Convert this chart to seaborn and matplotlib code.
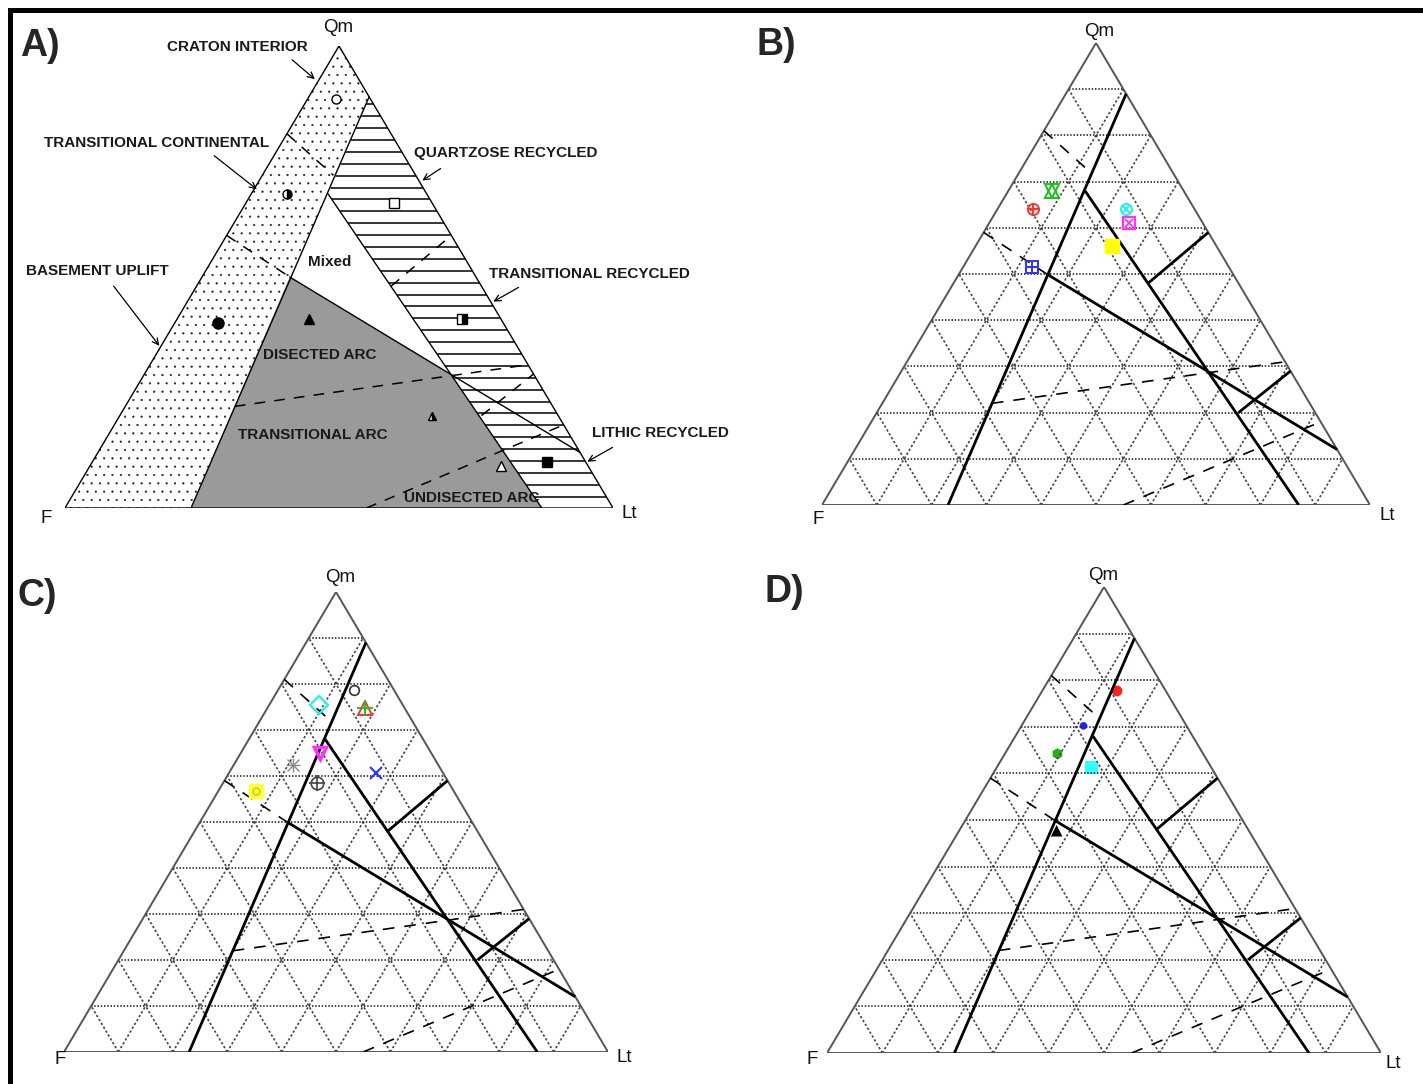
import numpy as np
import pandas as pd
import matplotlib
matplotlib.use("Agg")
import matplotlib.pyplot as plt
from matplotlib.patches import Polygon, Rectangle, FancyArrowPatch
import seaborn as sns

# Style
sns.set_theme(style="white")
plt.rcParams["font.family"] = ["Liberation Sans", "DejaVu Sans"]
plt.rcParams["hatch.linewidth"] = 0.35

W, H = 1423, 1084

# Field boundaries of the QmFLt diagram, end points as (Qm, F, Lt) in %
line1 = [(89, 0, 11), (0, 77, 23)]
line2 = [(68, 18, 14), (0, 13, 87)]
line3 = [(50, 34, 16), (12, 0, 88)]
line4 = [(48, 16.5, 35.5), (59, 0, 41)]
line5 = [(20, 14, 66), (29, 0, 71)]
dash1 = [(81, 19, 0), (72, 15, 13)]
dash2 = [(59, 41, 0), (50, 34, 16)]
dash3 = [(22, 58, 20), (31, 0, 69)]
dash4 = [(0, 45, 55), (18, 0, 82)]

# Panel A samples (Qm, F, Lt)
a_qm = [88.5, 68, 66, 40, 41, 41, 20, 9, 10]
a_f = [6.3, 25.5, 7, 52, 35, 7, 23, 16, 7]
a_lt = [5.2, 6.5, 27, 8, 24, 52, 57, 75, 83]

# Panel B samples
b_names = ["green", "red", "cyan", "magenta", "yellow", "blue"]
b_qm = [68, 64, 64, 61, 56, 51.5]
b_f = [24, 29.5, 12.5, 13.5, 19, 36]
b_lt = [8, 6.5, 23.5, 25.5, 25, 12.5]

# Panel C samples
c_names = ["circle", "diamond", "plus_tri", "down_tri", "asterisk", "cross", "circ_plus", "yellow_sq"]
c_qm = [78.7, 75.4, 74.7, 65, 62.4, 60.7, 58.4, 56.7]
c_f = [7.3, 15.4, 7.4, 20.5, 26.7, 12.3, 24.3, 36.4]
c_lt = [14, 9.2, 17.9, 14.5, 10.9, 27, 17.3, 6.9]

# Panel D samples
d_names = ["red", "blue", "green", "cyan", "black"]
d_qm = [77.7, 70.2, 64.2, 61.2, 47.7]
d_f = [8.8, 18.6, 26.3, 21.6, 34.7]
d_lt = [13.5, 11.2, 9.5, 17.2, 17.6]

grid_levels = [10, 20, 30, 40, 50, 60, 70, 80, 90]


def tern(qm, f, lt):
    qm, f, lt = (np.asarray(v, dtype=float) for v in (qm, f, lt))
    s = qm + f + lt
    return (lt + qm / 2) / s, qm / s


def seg(points):
    qm, f, lt = zip(*points)
    return tern(qm, f, lt)


def ff(x, y):
    return x / W, 1 - y / H


def intersect(p, q):
    (x1, x2), (y1, y2) = seg(p)
    (x3, x4), (y3, y4) = seg(q)
    A = np.array([[x2 - x1, x3 - x4], [y2 - y1, y3 - y4]])
    t, _ = np.linalg.solve(A, [x3 - x1, y3 - y1])
    return x1 + t * (x2 - x1), y1 + t * (y2 - y1)


# pixel boxes for each triangle: left, right, apex y, base y
boxes = {
    "A": (65, 613, 46, 508),
    "B": (822, 1370, 43, 505),
    "C": (64, 608, 592, 1052),
    "D": (827, 1381, 587, 1053),
}
panel_pos = {"A": (40, 46), "B": (776, 45), "C": (37, 596), "D": (784, 592)}
vertex_pos = {
    "A": [(338, 28), (46, 518), (629, 513)],
    "B": [(1099, 32), (818, 520), (1387, 516)],
    "C": [(340, 578), (60, 1060), (624, 1057)],
    "D": [(1103, 575), (812, 1060), (1393, 1063)],
}

fig = plt.figure(figsize=(W / 100, H / 100), dpi=100)
fig.add_artist(Rectangle((9.5 / W, -0.05), 1.1, 1.05 - 9.5 / H,
                         transform=fig.transFigure, fill=False, lw=3.6, ec="black"))

axes = {}
for key, (l, r, t, b) in boxes.items():
    ax = fig.add_axes([l / W, 1 - b / H, (r - l) / W, (b - t) / H])
    ax.set_xlim(0, 1)
    ax.set_ylim(0, 1)
    ax.set_axis_off()
    axes[key] = ax
    fig.text(*ff(*panel_pos[key]), key + ")", fontsize=27, fontweight="bold",
             ha="center", va="center")
    for name, (px, py) in zip(["Qm", "F", "Lt"], vertex_pos[key]):
        fig.text(*ff(px, py), name, fontsize=13.5, ha="center", va="center",
                 color="#111111")

tri_x, tri_y = tern([100, 0, 0, 100], [0, 100, 0, 0], [0, 0, 100, 0])
dash_ls = (0, (7, 6))

# ---------------- Panel A ----------------
ax = axes["A"]
apex = tern(100, 0, 0)
fv = tern(0, 100, 0)
lv = tern(0, 0, 100)
l1a, l1b = np.column_stack(seg(line1))
l2a, l2b = np.column_stack(seg(line2))
l3a, l3b = np.column_stack(seg(line3))
x23 = intersect(line2, line3)

stip = Polygon([apex, l1a, l1b, fv], closed=True, fc="none", ec="#222222", lw=0, hatch="..")
ax.add_patch(stip)
grey = Polygon([l3a, x23, l2b, l1b], closed=True, fc="#9a9a9a", ec="none")
ax.add_patch(grey)
hatch_poly = Polygon([l1a, l2a, l2b, lv], closed=True, fc="none", ec="none")
ax.add_patch(hatch_poly)
hl = ax.hlines(np.arange(0.0244, 0.88, 0.02574), 0, 1, color="black", lw=1.1)
hl.set_clip_path(hatch_poly)

ax.plot(tri_x, tri_y, color="black", lw=1.0)
for ln in (line1, line2, line3):
    ax.plot(*seg(ln), color="black", lw=1.0)
for ln in (dash1, dash2, dash3, dash4, line4, line5):
    ax.plot(*seg(ln), color="black", lw=1.1, ls=dash_ls)

a_styles = [("o", 6.5, "white", "full"), ("o", 6.5, "black", "right"),
            ("s", 6.5, "white", "full"), ("o", 8, "black", "full"),
            ("^", 7, "black", "full"), ("s", 7, "black", "right"),
            ("^", 6, "black", "right"), ("^", 7, "white", "full"),
            ("s", 7.5, "black", "full")]
ax_, ay_ = tern(a_qm, a_f, a_lt)
for x, y, (m, ms, fc, fs) in zip(ax_, ay_, a_styles):
    ax.plot(x, y, marker=m, ms=ms, mfc=fc, mec="black", mew=1.0,
            fillstyle=fs, markerfacecoloralt="white", ls="none")

a_labels = ["CRATON INTERIOR", "TRANSITIONAL CONTINENTAL", "QUARTZOSE RECYCLED",
            "Mixed", "BASEMENT UPLIFT", "TRANSITIONAL RECYCLED", "DISECTED ARC",
            "TRANSITIONAL ARC", "LITHIC RECYCLED", "UNDISECTED ARC"]
a_label_pos = [(237, 47), (157, 143), (506, 153), (330, 262), (97, 271),
               (589, 274), (320, 355), (313, 435), (660, 433), (472, 498)]
for txt, (px, py) in zip(a_labels, a_label_pos):
    fig.text(*ff(px, py), txt, fontsize=11, fontweight="bold", ha="center",
             va="center", color="#1a1a1a")

arrows = [((290, 58), (317, 81)), ((212, 154), (259, 191)), ((443, 167), (420, 182)),
          ((112, 284), (161, 348)), ((521, 286), (491, 303)), ((615, 446), (585, 463))]
for tail, tip in arrows:
    fig.add_artist(FancyArrowPatch(ff(*tail), ff(*tip), transform=fig.transFigure,
                                   arrowstyle="->", mutation_scale=11, lw=0.9,
                                   color="black"))


# ---------------- Panels B, C, D ----------------
def draw_template(ax):
    for k in grid_levels:
        ax.plot(*tern([k, k], [100 - k, 0], [0, 100 - k]), color="#333333",
                lw=1.3, ls=(0, (0.8, 1.0)))
        ax.plot(*tern([0, 100 - k], [100 - k, 0], [k, k]), color="#444444",
                lw=1.2, ls=(0, (1.4, 1.3)))
        ax.plot(*tern([0, 100 - k], [k, k], [100 - k, 0]), color="#444444",
                lw=1.2, ls=(0, (1.4, 1.3)))
    ax.plot(tri_x, tri_y, color="#555555", lw=1.4)
    for ln in (line1, line2, line3, line4, line5):
        ax.plot(*seg(ln), color="black", lw=2.0, solid_capstyle="butt")
    for ln in (dash1, dash2, dash3, dash4):
        ax.plot(*seg(ln), color="black", lw=1.2, ls=dash_ls)


def draw_layers(ax, xs, ys, names, layers):
    for x, y, n in zip(xs, ys, names):
        for m, ms, fc, ec, mew in layers[n]:
            ax.plot(x, y, marker=m, ms=ms, mfc=fc, mec=ec, mew=mew, ls="none")


for key in ("B", "C", "D"):
    draw_template(axes[key])

g, r, c, m, yl, bl = "#22c022", "#ff3030", "#20f0f0", "#ff30ff", "#ffff00", "#3030ff"
b_layers = {
    "green": [("^", 9.5, "none", g, 1.5), ("v", 9.5, "none", g, 1.5)],
    "red": [("o", 8, "none", r, 1.4), ("+", 8, r, r, 1.4)],
    "cyan": [("o", 8, "none", c, 1.4), ("x", 6, c, c, 1.4)],
    "magenta": [("s", 9, "none", m, 1.6), ("x", 6, m, m, 1.3)],
    "yellow": [("s", 9.5, yl, yl, 1.0)],
    "blue": [("s", 9, "none", bl, 1.4), ("+", 9, bl, bl, 1.4)],
}
draw_layers(axes["B"], *tern(b_qm, b_f, b_lt), b_names, b_layers)

c_layers = {
    "circle": [("o", 7, "none", "#333333", 1.2)],
    "diamond": [("D", 9, "none", c, 1.6)],
    "plus_tri": [("^", 10, "none", r, 1.4), ("+", 11, g, g, 1.4)],
    "down_tri": [("v", 9, "none", m, 2.5)],
    "asterisk": [("+", 10, "#888888", "#888888", 1.0), ("x", 8, "#888888", "#888888", 1.0)],
    "cross": [("x", 9, bl, bl, 1.5)],
    "circ_plus": [("o", 9, "none", "#444444", 1.2), ("+", 11, "#444444", "#444444", 1.2)],
    "yellow_sq": [("s", 10, "#ffff40", "#ffff40", 1.0), ("o", 5, "none", "#c8c800", 1.0)],
}
draw_layers(axes["C"], *tern(c_qm, c_f, c_lt), c_names, c_layers)

ax = axes["D"]
d_df = pd.DataFrame({"sample": d_names, "Qm": d_qm, "F": d_f, "Lt": d_lt})
d_df["x"], d_df["y"] = tern(d_df["Qm"], d_df["F"], d_df["Lt"])
sns.scatterplot(data=d_df, x="x", y="y", hue="sample", style="sample", size="sample",
                palette={"red": "#ff2020", "blue": "#2020ff", "green": "#20b020",
                         "cyan": "#30ffff", "black": "black"},
                markers={"red": "o", "blue": "o", "green": "h", "cyan": "s", "black": "^"},
                sizes={"red": 60, "blue": 30, "green": 65, "cyan": 85, "black": 70},
                linewidth=0, legend=False, ax=ax)
ax.set_xlim(0, 1)
ax.set_ylim(0, 1)
ax.set_axis_off()

fig.savefig("out.png", dpi=100)
